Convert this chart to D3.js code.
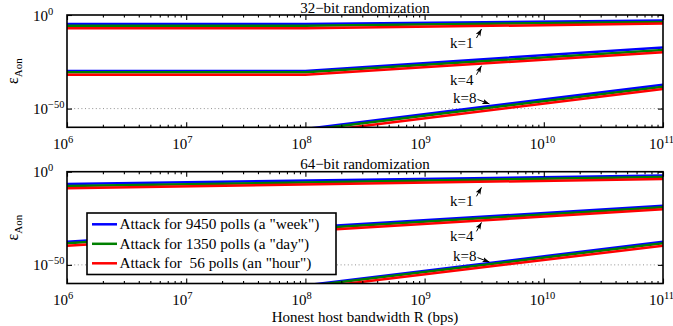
<!DOCTYPE html>
<html>
<head>
<meta charset="utf-8">
<script src="https://d3js.org/d3.v7.min.js"></script>
<style>
body { margin: 0; background: #fff; }
svg text { font-family: "Liberation Serif", "Times New Roman", serif; fill: #000; }
</style>
</head>
<body>
<div id="chart"></div>
<script>
// bandwidth R (bps) where the values were read
const rFlat = [1e6, 1e8, 1e11];
const rStraight = [1e6, 1e11];
const rSteep = [1e8, 1e11];

// log10(eps_Aon) per curve, rows = [week, day, hour]
const k1Bit32 = [[-4.8, -4.8, -2.9], [-5.7, -5.7, -3.7], [-7.1, -7.1, -4.6]];
const k4Bit32 = [[-29.9, -29.9, -17.3], [-30.6, -30.6, -18.7], [-31.9, -31.9, -19.9]];
const k8Bit32 = [[-60.9, -37.2], [-61.6, -38.3], [-63.1, -39.5]];
const k1Bit64 = [[-6.6, -2.1], [-7.7, -2.8], [-8.9, -3.9]];
const k4Bit64 = [[-37.6, -18.3], [-38.4, -19.1], [-39.7, -20.2]];
const k8Bit64 = [[-61.0, -37.6], [-61.5, -38.4], [-62.8, -39.7]];

const seriesNames = ['Attack for 9450 polls (a "week")', 'Attack for 1350 polls (a "day")', 'Attack for  56 polls (an "hour")'];
const seriesColors = ['#0000ff', '#008000', '#ff0000'];
const kLabels = ['k=1', 'k=4', 'k=8'];
// arrow tips [R, log10 eps]
const tips32 = [[3.0e9, -7.5], [3.0e9, -27.1], [3.5e9, -47.5]];
const tips64 = [[3.0e9, -8.4], [3.0e9, -27.2], [3.5e9, -48.5]];
const xTickExp = [6, 7, 8, 9, 10, 11];
const yTickExp = [-50, 0];

const width = 673, height = 326;
const left = 67, right = 663;

const svg = d3.select('#chart').append('svg')
    .attr('width', width)
    .attr('height', height);

svg.append('defs').append('marker')
    .attr('id', 'head')
    .attr('viewBox', '-7 -3 8 6')
    .attr('refX', 0).attr('refY', 0)
    .attr('markerWidth', 8).attr('markerHeight', 6)
    .attr('markerUnits', 'userSpaceOnUse')
    .attr('orient', 'auto')
    .append('path')
    .attr('d', 'M0,0L-7,-2.6L-5.5,0L-7,2.6Z')
    .attr('fill', '#000');

const xScale = d3.scaleLog().domain([1e6, 1e11]).range([left, right]);

const minorTicks = [];
for (let e = 6; e < 11; e++) {
    for (let m = 2; m <= 9; m++) minorTicks.push(m * Math.pow(10, e));
}

// "10" plus a raised exponent, in one text element
function powLabel(g, x, y, e) {
    const t = g.append('text')
        .attr('x', x)
        .attr('y', y)
        .attr('font-size', 15);
    t.append('tspan').text('10');
    t.append('tspan')
        .attr('font-size', 10.5)
        .attr('dy', -6)
        .text(e < 0 ? '\u2212' + (-e) : e);
    return t;
}

function drawPanel(id, top, bottom, title, groups, tips, legend) {
    const yScale = d3.scaleLog().domain([1e-60, 1]).range([bottom, top]);
    const g = svg.append('g');

    g.append('clipPath').attr('id', 'clip' + id)
        .append('rect')
        .attr('x', left).attr('y', top)
        .attr('width', right - left).attr('height', bottom - top);

    // dotted grid at 10^-50
    g.append('line')
        .attr('x1', left).attr('x2', right)
        .attr('y1', yScale(1e-50)).attr('y2', yScale(1e-50))
        .attr('stroke', '#777')
        .attr('stroke-width', 0.8)
        .attr('stroke-dasharray', '1,2.6');

    const line = d3.line()
        .x(d => xScale(d[0]))
        .y(d => yScale(Math.pow(10, d[1])));

    const lines = g.append('g').attr('clip-path', 'url(#clip' + id + ')');
    groups.forEach(grp => {
        grp.vals.forEach((v, i) => {
            const pts = grp.r.map((r, j) => [r, v[j]]);
            lines.append('path')
                .attr('d', line(pts))
                .attr('fill', 'none')
                .attr('stroke', seriesColors[i])
                .attr('stroke-width', 2.5);
        });
    });

    // ticks
    const tickStyle = sel => {
        sel.select('.domain').remove();
        sel.selectAll('line').attr('stroke', '#000').attr('stroke-width', 1.1);
    };
    const majors = xTickExp.map(e => Math.pow(10, e));
    g.append('g').attr('transform', 'translate(0,' + bottom + ')')
        .call(d3.axisBottom(xScale).tickValues(majors).tickSize(-5).tickFormat(''))
        .call(tickStyle);
    g.append('g').attr('transform', 'translate(0,' + bottom + ')')
        .call(d3.axisBottom(xScale).tickValues(minorTicks).tickSize(-2.5).tickFormat(''))
        .call(tickStyle);
    g.append('g').attr('transform', 'translate(0,' + top + ')')
        .call(d3.axisTop(xScale).tickValues(majors).tickSize(-5).tickFormat(''))
        .call(tickStyle);
    g.append('g').attr('transform', 'translate(0,' + top + ')')
        .call(d3.axisTop(xScale).tickValues(minorTicks).tickSize(-2.5).tickFormat(''))
        .call(tickStyle);
    const yMajors = yTickExp.map(e => Math.pow(10, e));
    g.append('g').attr('transform', 'translate(' + left + ',0)')
        .call(d3.axisLeft(yScale).tickValues(yMajors).tickSize(-5).tickFormat(''))
        .call(tickStyle);
    g.append('g').attr('transform', 'translate(' + right + ',0)')
        .call(d3.axisRight(yScale).tickValues(yMajors).tickSize(-5).tickFormat(''))
        .call(tickStyle);

    // frame
    g.append('rect')
        .attr('x', left).attr('y', top)
        .attr('width', right - left).attr('height', bottom - top)
        .attr('fill', 'none')
        .attr('stroke', '#000')
        .attr('stroke-width', 1.6);

    // x tick labels: "10" ends just right of the tick
    xTickExp.forEach(e => {
        powLabel(g, xScale(Math.pow(10, e)) + 1 - 15, bottom + 21.5, e);
    });

    // y tick labels: "10" starts at a fixed x
    yTickExp.forEach(e => {
        powLabel(g, left - 34, yScale(Math.pow(10, e)) + 5.5, e);
    });

    // y label
    const yl = g.append('text')
        .attr('transform', 'translate(18,' + (top + bottom) / 2 + ') rotate(-90)')
        .attr('text-anchor', 'middle')
        .attr('font-size', 16);
    yl.append('tspan').text('\u03b5');
    yl.append('tspan').attr('font-size', 11).attr('dy', 4).text('Aon');

    // title
    g.append('text')
        .attr('x', (left + right) / 2)
        .attr('y', top - 2.4)
        .attr('text-anchor', 'middle')
        .attr('font-size', 15)
        .text(title);

    // k annotations
    tips.forEach((tp, i) => {
        const tx = xScale(tp[0]);
        const ty = yScale(Math.pow(10, tp[1]));
        let lx, ly, ax, ay;
        if (i < 2) {
            lx = tx - 8; ly = ty + 19; ax = tx - 5; ay = ty + 9;
        } else {
            lx = tx - 13; ly = ty - 1; ax = tx - 12; ay = ty - 4.5;
        }
        g.append('line')
            .attr('x1', ax).attr('y1', ay)
            .attr('x2', tx).attr('y2', ty)
            .attr('stroke', '#000')
            .attr('stroke-width', 1)
            .attr('marker-end', 'url(#head)');
        g.append('text')
            .attr('x', lx).attr('y', ly)
            .attr('text-anchor', 'end')
            .attr('font-size', 15)
            .text(kLabels[i]);
    });

    if (legend) {
        const lg = g.append('g');
        lg.append('rect')
            .attr('x', 87).attr('y', 213)
            .attr('width', 249).attr('height', 61.5)
            .attr('fill', '#fff')
            .attr('stroke', '#000')
            .attr('stroke-width', 1.6);
        seriesNames.forEach((name, i) => {
            const ly = 224.3 + i * 19.5;
            lg.append('line')
                .attr('x1', 92).attr('x2', 117)
                .attr('y1', ly).attr('y2', ly)
                .attr('stroke', seriesColors[i])
                .attr('stroke-width', 2.5);
            lg.append('text')
                .attr('x', 119.5).attr('y', ly + 5)
                .attr('font-size', 15.3)
                .style('white-space', 'pre')
                .text(name);
        });
    }
}

drawPanel('a', 15, 127.3, '32\u2212bit randomization', [
    { r: rFlat, vals: k1Bit32 },
    { r: rFlat, vals: k4Bit32 },
    { r: rSteep, vals: k8Bit32 }
], tips32, false);

drawPanel('b', 171.7, 283.5, '64\u2212bit randomization', [
    { r: rStraight, vals: k1Bit64 },
    { r: rStraight, vals: k4Bit64 },
    { r: rSteep, vals: k8Bit64 }
], tips64, true);

svg.append('text')
    .attr('x', (left + right) / 2)
    .attr('y', 322)
    .attr('text-anchor', 'middle')
    .attr('font-size', 15)
    .text('Honest host bandwidth R (bps)');
</script>
</body>
</html>
